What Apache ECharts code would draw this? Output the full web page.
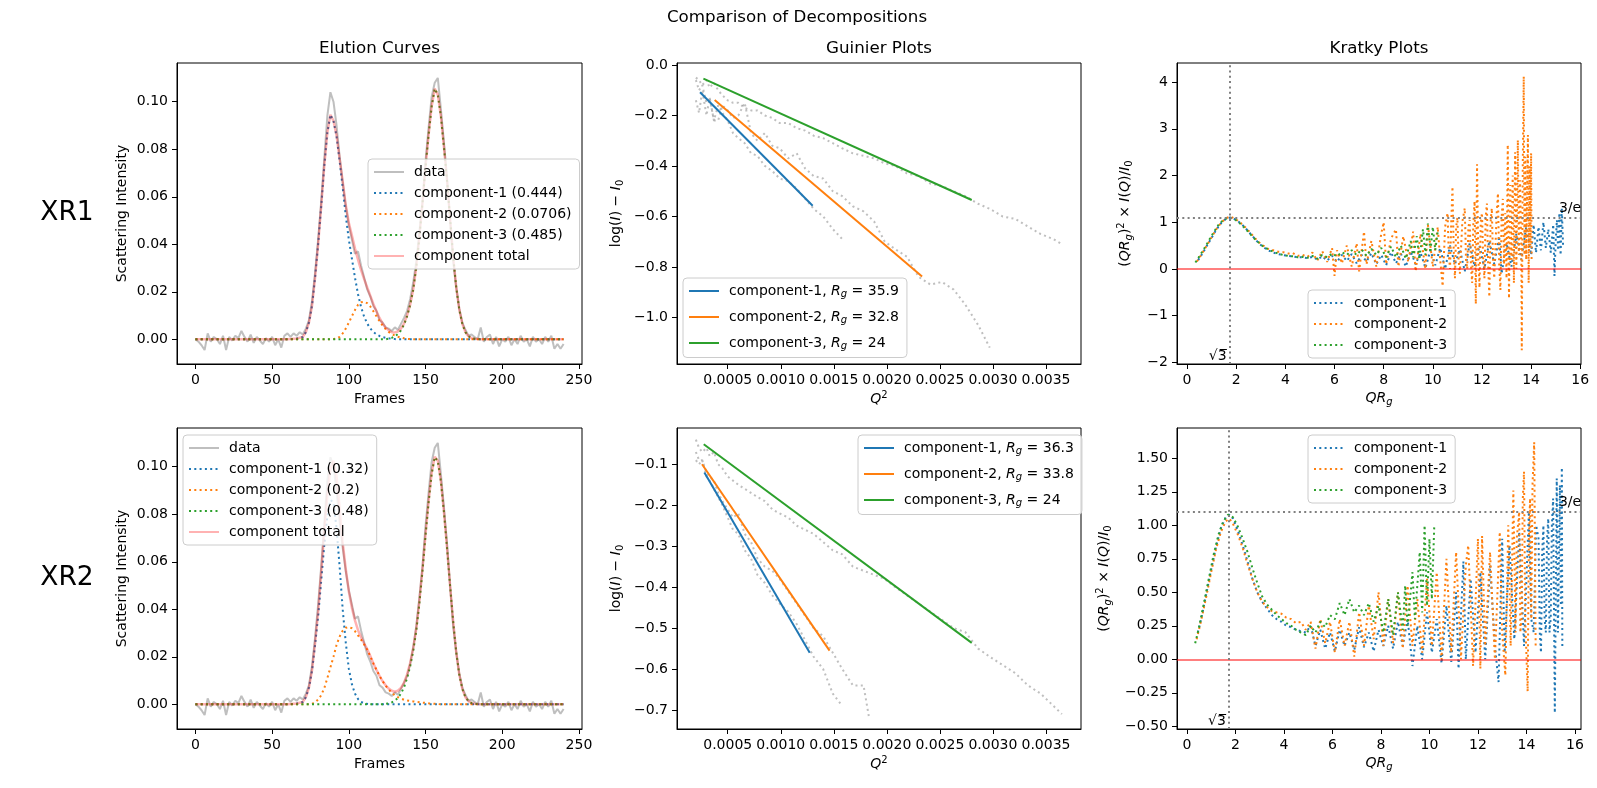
<!DOCTYPE html>
<html>
<head>
<meta charset="utf-8">
<title>Comparison of Decompositions</title>
<script src="https://cdn.jsdelivr.net/npm/echarts@6.0.0/dist/echarts.min.js"></script>
<style>
  html, body { margin: 0; padding: 0; background: #fff; }
  #chart { width: 1597px; height: 788px; }
</style>
</head>
<body>
<div id="chart"></div>
<script>
// ---------- elution curves (frames, intensities) ----------
const elutionFrames = [
  0, 2, 4, 6, 8, 10, 12, 14, 16, 18, 20, 22, 24, 26, 28, 30, 32, 34, 36, 38,
  40, 42, 44, 46, 48, 50, 52, 54, 56, 58, 60, 62, 64, 66, 68, 70, 72, 74, 76, 78,
  80, 82, 84, 86, 88, 90, 92, 94, 96, 98, 100, 102, 104, 106, 108, 110, 112, 114, 116, 118,
  120, 122, 124, 126, 128, 130, 132, 134, 136, 138, 140, 142, 144, 146, 148, 150, 152, 154, 156, 158,
  160, 162, 164, 166, 168, 170, 172, 174, 176, 178, 180, 182, 184, 186, 188, 190, 192, 194, 196, 198,
  200, 202, 204, 206, 208, 210, 212, 214, 216, 218, 220, 222, 224, 226, 228, 230, 232, 234, 236, 238,
  240
];
const elutionData = [
  0.0, -0.001, -0.0025, -0.0045, 0.0025, -0.001, 0.001, 0.0, -0.002, 0.0015,
  -0.0045, 0.001, -0.0005, 0.0015, 0.0005, 0.0035, 0.001, -0.001, 0.002, -0.0015,
  0.001, -0.0005, -0.002, 0.0005, -0.001, 0.001, -0.0025, 0.0, -0.0035, 0.0015,
  0.0025, 0.001, 0.0025, 0.0015, 0.003, 0.002, 0.0045, 0.008, 0.016, 0.028,
  0.042, 0.058, 0.076, 0.094, 0.104, 0.1, 0.09, 0.077, 0.066, 0.056,
  0.048, 0.042, 0.036, 0.037, 0.031, 0.026, 0.021, 0.018, 0.014, 0.012,
  0.008, 0.007, 0.005, 0.0045, 0.0035, 0.005, 0.004, 0.0065, 0.009, 0.012,
  0.017, 0.024, 0.033, 0.045, 0.058, 0.075, 0.089, 0.102, 0.108, 0.11,
  0.097, 0.083, 0.068, 0.05, 0.033, 0.022, 0.013, 0.007, 0.004, 0.0015,
  0.002, 0.001, 0.0, 0.005, -0.001, 0.001, 0.002, -0.002, 0.001, -0.003,
  0.0, -0.001, 0.001, -0.0025, 0.0, -0.002, 0.0015, -0.001, 0.0, -0.003,
  0.001, -0.001, 0.0, -0.002, 0.001, -0.001, 0.0015, -0.004, -0.002, -0.004,
  -0.002
];
const fitFrames = [
  0, 10, 20, 30, 40, 50, 60, 66,
  70, 72, 74, 76, 78, 80, 82, 84, 86, 88,
  90, 92, 94, 96, 98, 100, 102, 104, 106, 108,
  110, 112, 114, 116, 118, 120, 122, 124, 126, 128,
  130, 132, 134, 136, 138, 140, 142, 144, 146, 148,
  150, 152, 154, 156, 158, 160, 162, 164, 166, 168,
  170, 172, 174, 176, 178, 180, 182, 184, 186, 188,
  190, 200, 210, 220, 230, 240
];
const xr1Comp1 = [
  0, 0, 0, 0, 0, 0, 0, 0.0003,
  0.001, 0.003, 0.007, 0.014, 0.026, 0.040, 0.056, 0.073, 0.087, 0.0945,
  0.092, 0.0855, 0.075, 0.064, 0.052, 0.042, 0.034, 0.026, 0.019, 0.0135,
  0.0095, 0.0066, 0.0046, 0.0031, 0.0021, 0.0014, 0.0009, 0.0006, 0.0004, 0.0002,
  0.0001, 0, 0, 0, 0, 0, 0, 0, 0, 0,
  0, 0, 0, 0, 0, 0, 0, 0, 0, 0,
  0, 0, 0, 0, 0, 0, 0, 0, 0, 0,
  0, 0, 0, 0, 0, 0
];
const xr1Comp2 = [
  0, 0, 0, 0, 0, 0, 0, 0,
  0, 0, 0, 0, 0, 0, 0, 0, 0, 0,
  0.0001, 0.0003, 0.001, 0.0025, 0.0045, 0.007, 0.0097, 0.0123, 0.0145, 0.0156,
  0.0158, 0.0152, 0.0138, 0.0118, 0.0097, 0.0076, 0.0058, 0.0043, 0.0031, 0.0022,
  0.0016, 0.0011, 0.0007, 0.0004, 0.0002, 0.0001, 0, 0, 0, 0,
  0, 0, 0, 0, 0, 0, 0, 0, 0, 0,
  0, 0, 0, 0, 0, 0, 0, 0, 0, 0,
  0, 0, 0, 0, 0, 0
];
const xr1Comp3 = [
  0, 0, 0, 0, 0, 0, 0, 0,
  0, 0, 0, 0, 0, 0, 0, 0, 0, 0,
  0, 0, 0, 0, 0, 0, 0, 0, 0, 0,
  0, 0, 0, 0, 0, 0, 0, 0, 0.0003, 0.0006,
  0.0012, 0.0022, 0.0038, 0.0062, 0.0098, 0.0145, 0.021, 0.0305, 0.043, 0.057,
  0.0725, 0.086, 0.098, 0.1055, 0.103, 0.094, 0.081, 0.067, 0.051, 0.035,
  0.022, 0.0125, 0.0065, 0.003, 0.0013, 0.0005, 0.0002, 0.0001, 0, 0,
  0, 0, 0, 0, 0, 0
];
const xr1Total = [
  0, 0, 0, 0, 0, 0, 0, 0.0003,
  0.001, 0.003, 0.007, 0.014, 0.026, 0.040, 0.056, 0.073, 0.087, 0.0945,
  0.092, 0.0858, 0.076, 0.0665, 0.0565, 0.049, 0.0437, 0.0383, 0.0335, 0.0291,
  0.0253, 0.0218, 0.0184, 0.0149, 0.0118, 0.009, 0.0067, 0.0049, 0.0038, 0.003,
  0.0029, 0.0033, 0.0045, 0.0066, 0.01, 0.0146, 0.021, 0.0305, 0.043, 0.057,
  0.0725, 0.086, 0.098, 0.1055, 0.103, 0.094, 0.081, 0.067, 0.051, 0.035,
  0.022, 0.0125, 0.0065, 0.003, 0.0013, 0.0005, 0.0002, 0.0001, 0, 0,
  0, 0, 0, 0, 0, 0
];
const xr2Comp1 = [
  0, 0, 0, 0, 0, 0, 0, 0.0003,
  0.001, 0.003, 0.007, 0.014, 0.025, 0.037, 0.052, 0.067, 0.079, 0.086,
  0.085, 0.074, 0.058, 0.040, 0.026, 0.015, 0.0085, 0.0045, 0.0022, 0.001,
  0.0004, 0.0002, 0.0001, 0, 0, 0, 0, 0, 0, 0,
  0, 0, 0, 0, 0, 0, 0, 0, 0, 0,
  0, 0, 0, 0, 0, 0, 0, 0, 0, 0,
  0, 0, 0, 0, 0, 0, 0, 0, 0, 0,
  0, 0, 0, 0, 0, 0
];
const xr2Comp2 = [
  0, 0, 0, 0, 0, 0, 0, 0,
  0, 0, 0, 0.0002, 0.0008, 0.002, 0.0038, 0.0068, 0.011, 0.0155,
  0.020, 0.025, 0.0285, 0.031, 0.0322, 0.0325, 0.032, 0.0308, 0.029, 0.0272,
  0.0252, 0.023, 0.0202, 0.0172, 0.0145, 0.012, 0.0098, 0.0078, 0.0062, 0.0049,
  0.0038, 0.003, 0.0024, 0.0019, 0.0016, 0.0014, 0.0012, 0.001, 0.0009, 0.0007,
  0.0006, 0.0004, 0.0003, 0.0002, 0.0001, 0, 0, 0, 0, 0,
  0, 0, 0, 0, 0, 0, 0, 0, 0, 0,
  0, 0, 0, 0, 0, 0
];
const xr2Comp3 = [
  0, 0, 0, 0, 0, 0, 0, 0,
  0, 0, 0, 0, 0, 0, 0, 0, 0, 0,
  0, 0, 0, 0, 0, 0, 0, 0, 0, 0,
  0, 0, 0, 0, 0, 0, 0, 0.0002, 0.0004, 0.0008,
  0.0015, 0.0027, 0.0045, 0.0072, 0.011, 0.016, 0.0225, 0.031, 0.0425, 0.056,
  0.071, 0.085, 0.097, 0.104, 0.1025, 0.094, 0.081, 0.066, 0.050, 0.035,
  0.022, 0.0125, 0.0065, 0.003, 0.0013, 0.0005, 0.0002, 0.0001, 0, 0,
  0, 0, 0, 0, 0, 0
];
const xr2Total = [
  0, 0, 0, 0, 0, 0, 0, 0.0003,
  0.001, 0.003, 0.007, 0.0142, 0.0258, 0.039, 0.0555, 0.0728, 0.088, 0.099,
  0.1025, 0.096, 0.083, 0.068, 0.057, 0.0475, 0.0407, 0.0353, 0.0312, 0.0282,
  0.0256, 0.0232, 0.0203, 0.0172, 0.0145, 0.012, 0.0098, 0.008, 0.0066, 0.0057,
  0.0053, 0.0057, 0.0069, 0.0091, 0.0126, 0.0174, 0.0237, 0.032, 0.0434, 0.0567,
  0.0716, 0.0854, 0.0973, 0.1042, 0.1026, 0.094, 0.081, 0.066, 0.050, 0.035,
  0.022, 0.0125, 0.0065, 0.003, 0.0013, 0.0005, 0.0002, 0.0001, 0, 0,
  0, 0, 0, 0, 0, 0
];
const xr1Ratios = ['0.444', '0.0706', '0.485'];
const xr2Ratios = ['0.32', '0.2', '0.48'];

// ---------- guinier plots ([Q^2, log(I) - I0]) ----------
const xr1Rg = ['35.9', '32.8', '24'];
const xr2Rg = ['36.3', '33.8', '24'];
const g1Data1 = [[0.0002,-0.14],[0.00023,-0.19],[0.00026,-0.10],[0.0003,-0.20],[0.00033,-0.13],[0.00037,-0.22],[0.00041,-0.16],[0.00045,-0.19],[0.0005,-0.22],[0.00055,-0.27],[0.0006,-0.29],[0.00066,-0.31],[0.00072,-0.35],[0.00078,-0.36],[0.00085,-0.40],[0.00092,-0.42],[0.00099,-0.45],[0.00107,-0.46],[0.00115,-0.49],[0.00123,-0.53],[0.00131,-0.57],[0.0014,-0.60],[0.00149,-0.65],[0.00158,-0.69]];
const g1Data2 = [[0.0002,-0.06],[0.00023,-0.10],[0.00026,-0.08],[0.0003,-0.15],[0.00033,-0.13],[0.00037,-0.22],[0.00041,-0.22],[0.00045,-0.16],[0.0005,-0.18],[0.00055,-0.21],[0.0006,-0.20],[0.00066,-0.15],[0.00072,-0.27],[0.00078,-0.30],[0.00085,-0.27],[0.00092,-0.32],[0.00099,-0.33],[0.00107,-0.37],[0.00115,-0.35],[0.00123,-0.41],[0.00131,-0.44],[0.0014,-0.45],[0.00149,-0.50],[0.00158,-0.52],[0.00168,-0.56],[0.00178,-0.58],[0.00188,-0.62],[0.00198,-0.70],[0.00208,-0.73],[0.00219,-0.76],[0.0023,-0.84],[0.00241,-0.87],[0.00252,-0.86],[0.00263,-0.89],[0.00274,-0.95],[0.00286,-1.03],[0.00297,-1.12]];
const g1Data3 = [[0.0002,-0.05],[0.00023,-0.06],[0.00026,-0.08],[0.0003,-0.06],[0.00033,-0.09],[0.00037,-0.07],[0.00041,-0.10],[0.00045,-0.12],[0.0005,-0.14],[0.00055,-0.15],[0.0006,-0.15],[0.00066,-0.17],[0.00072,-0.18],[0.00078,-0.18],[0.00085,-0.20],[0.00092,-0.21],[0.00099,-0.23],[0.00107,-0.23],[0.00115,-0.25],[0.00123,-0.26],[0.00131,-0.28],[0.0014,-0.29],[0.00149,-0.31],[0.00158,-0.33],[0.00168,-0.35],[0.00178,-0.36],[0.00188,-0.37],[0.00198,-0.39],[0.00208,-0.40],[0.00219,-0.43],[0.0023,-0.44],[0.00241,-0.47],[0.00252,-0.48],[0.00263,-0.50],[0.00274,-0.52],[0.00286,-0.55],[0.00297,-0.57],[0.00309,-0.60],[0.00321,-0.61],[0.00333,-0.64],[0.00345,-0.67],[0.00357,-0.69],[0.00365,-0.71]];
const g1Fit1 = [[0.000239, -0.108], [0.001301, -0.558]];
const g1Fit2 = [[0.000377, -0.139], [0.002332, -0.838]];
const g1Fit3 = [[0.000271, -0.054], [0.0028, -0.535]];
const g2Data1 = [[0.0002,-0.09],[0.00023,-0.10],[0.00026,-0.09],[0.0003,-0.13],[0.00033,-0.14],[0.00037,-0.16],[0.00041,-0.18],[0.00045,-0.20],[0.0005,-0.23],[0.00055,-0.26],[0.0006,-0.27],[0.00066,-0.31],[0.00072,-0.33],[0.00078,-0.37],[0.00085,-0.39],[0.00092,-0.42],[0.00099,-0.44],[0.00107,-0.46],[0.00115,-0.49],[0.00123,-0.53],[0.00131,-0.57],[0.0014,-0.60],[0.00149,-0.66],[0.00158,-0.69]];
const g2Data2 = [[0.0002,-0.07],[0.00023,-0.09],[0.00026,-0.09],[0.0003,-0.12],[0.00033,-0.13],[0.00037,-0.14],[0.00041,-0.17],[0.00045,-0.19],[0.0005,-0.21],[0.00055,-0.23],[0.0006,-0.22],[0.00066,-0.27],[0.00072,-0.29],[0.00078,-0.33],[0.00085,-0.35],[0.00092,-0.36],[0.00099,-0.38],[0.00107,-0.41],[0.00115,-0.44],[0.00123,-0.47],[0.00131,-0.50],[0.0014,-0.52],[0.00149,-0.56],[0.00158,-0.60],[0.00168,-0.64],[0.00178,-0.64],[0.00183,-0.715]];
const g2Data3 = [[0.0002,-0.04],[0.00023,-0.06],[0.00026,-0.07],[0.0003,-0.06],[0.00033,-0.08],[0.00037,-0.07],[0.00041,-0.10],[0.00045,-0.11],[0.0005,-0.13],[0.00055,-0.14],[0.0006,-0.15],[0.00066,-0.16],[0.00072,-0.17],[0.00078,-0.18],[0.00085,-0.19],[0.00092,-0.21],[0.00099,-0.22],[0.00107,-0.23],[0.00115,-0.25],[0.00123,-0.26],[0.00131,-0.27],[0.0014,-0.29],[0.00149,-0.31],[0.00158,-0.32],[0.00168,-0.35],[0.00178,-0.36],[0.00188,-0.37],[0.00198,-0.38],[0.00208,-0.40],[0.00219,-0.42],[0.0023,-0.44],[0.00241,-0.46],[0.00252,-0.48],[0.00263,-0.50],[0.00274,-0.51],[0.00286,-0.55],[0.00297,-0.57],[0.00309,-0.59],[0.00321,-0.61],[0.00333,-0.64],[0.00345,-0.66],[0.00357,-0.69],[0.00365,-0.71]];
const g2Fit1 = [[0.00028, -0.12], [0.001273, -0.56]];
const g2Fit2 = [[0.000258, -0.1], [0.00146, -0.555]];
const g2Fit3 = [[0.000274, -0.051], [0.0028, -0.536]];

// ---------- kratky plots ([QRg, (QRg)^2 I/I0]) ----------
const k1Comp1 = [[0.45,0.19],[0.6,0.31],[0.8,0.49],[1.0,0.67],[1.2,0.85],[1.4,0.99],[1.6,1.08],[1.75,1.1],[1.9,1.08],[2.1,1.01],[2.3,0.92],[2.5,0.8],[2.7,0.68],[2.9,0.56],[3.1,0.47],[3.3,0.4],[3.5,0.35],[3.7,0.32],[3.9,0.3],[4.1,0.28],[4.3,0.27],[4.5,0.25],[4.7,0.25],[4.9,0.23],
  [5.1,0.26],[5.3,0.2],[5.5,0.27],[5.7,0.18],[5.9,0.28],[6.1,0.15],[6.3,0.3],[6.5,0.17],[6.7,0.32],[6.9,0.12],[7.1,0.3],[7.3,0.16],[7.5,0.34],[7.7,0.1],[7.9,0.3],[8.1,0.08],[8.3,0.36],[8.5,0.12],[8.7,0.33],[8.9,0.05],[9.1,0.38],[9.3,0.1],[9.5,0.35],[9.7,0.02],[9.9,0.4],[10.1,0.08],[10.3,0.45],[10.5,0.0],[10.7,0.5],[10.9,0.1],[11.1,0.42],[11.3,-0.05],[11.5,0.55],[11.7,0.05],[11.9,0.5],[12.1,0.0],[12.3,0.6],[12.5,0.1],[12.7,0.7],[12.8,-0.1],[13.0,0.55],[13.2,0.05],[13.4,0.75],[13.6,0.2],[13.8,0.9],[14.0,0.3],[14.1,0.95],[14.2,0.35],[14.3,0.9],[14.4,0.4],[14.5,1.0],[14.6,0.45],[14.7,0.85],[14.8,0.35],[14.9,0.95],[14.95,-0.15],[15.0,0.6],[15.05,1.05],[15.1,0.4],[15.15,1.2],[15.2,0.3],[15.25,1.3],[15.3,0.5]];
const k1Comp2 = [[0.4,0.16],[0.6,0.32],[0.8,0.5],[1.0,0.68],[1.2,0.86],[1.4,1.0],[1.6,1.09],[1.75,1.12],[1.9,1.09],[2.1,1.02],[2.3,0.93],[2.5,0.82],[2.7,0.7],[2.9,0.58],[3.1,0.5],[3.3,0.43],[3.5,0.4],[3.7,0.37],[3.9,0.36],[4.1,0.33],[4.3,0.34],[4.5,0.28],[4.7,0.3],[4.9,0.26],
  [5.1,0.35],[5.3,0.18],[5.5,0.38],[5.7,0.15],[5.9,0.45],[6.0,-0.15],[6.1,0.4],[6.3,0.12],[6.5,0.5],[6.7,0.05],[6.9,0.55],[7.0,-0.05],[7.2,0.8],[7.3,0.1],[7.5,0.6],[7.7,0.05],[7.9,0.75],[8.0,1.0],[8.1,0.1],[8.3,0.65],[8.5,0.85],[8.6,0.05],[8.8,0.7],[9.0,0.15],[9.2,0.8],[9.3,-0.05],[9.5,0.75],[9.7,0.0],[9.8,0.95],[10.0,0.05],[10.2,0.9],[10.3,0.2],[10.4,-0.37],[10.5,0.9],[10.6,1.2],[10.65,0.3],[10.7,0.0],[10.75,1.0],[10.8,1.76],[10.85,0.4],[10.9,-0.2],[10.95,0.9],[11.0,1.1],[11.05,0.2],[11.1,-0.1],[11.2,1.0],[11.3,1.3],[11.35,0.2],[11.4,0.0],[11.45,0.9],[11.5,1.05],[11.55,0.1],[11.6,-0.3],[11.65,1.0],[11.7,1.45],[11.75,-0.75],[11.8,2.24],[11.85,0.3],[11.9,-0.4],[11.95,1.0],[12.0,1.2],[12.05,0.2],[12.1,-0.2],[12.15,1.1],[12.2,1.4],[12.25,0.1],[12.3,-0.6],[12.35,1.0],[12.4,1.3],[12.45,0.2],[12.5,-0.2],[12.6,1.2],[12.65,1.62],[12.7,0.1],[12.75,-0.45],[12.8,1.1],
  [12.85,1.5],[12.9,0.1],[12.95,1.2],[13.0,-0.2],[13.05,2.66],[13.1,-0.63],[13.15,1.8],[13.2,0.2],[13.25,2.0],[13.3,-0.3],[13.35,2.5],[13.4,0.0],[13.46,2.76],[13.5,0.3],[13.55,1.9],[13.6,0.4],[13.62,-1.74],[13.66,2.2],[13.7,4.12],[13.73,0.3],[13.77,2.4],[13.8,0.2],[13.87,2.87],[13.9,-0.3],[13.94,2.2],[13.97,0.5],[14.0,2.48],[14.02,0.2]];
const k1Comp3 = [[0.34,0.14],[0.5,0.27],[0.7,0.44],[0.9,0.62],[1.1,0.8],[1.3,0.96],[1.5,1.06],[1.7,1.1],[1.9,1.08],[2.1,1.0],[2.3,0.9],[2.5,0.79],[2.7,0.67],[2.9,0.57],[3.1,0.48],[3.3,0.42],[3.5,0.37],[3.7,0.33],[3.9,0.3],[4.1,0.28],[4.3,0.27],[4.5,0.25],[4.7,0.26],[4.9,0.24],
  [5.1,0.28],[5.3,0.22],[5.5,0.3],[5.7,0.25],[5.9,0.33],[6.1,0.27],[6.3,0.36],[6.5,0.3],[6.7,0.4],[6.9,0.3],[7.1,0.42],[7.3,0.28],[7.5,0.43],[7.7,0.3],[7.9,0.45],[8.1,0.25],[8.3,0.48],[8.5,0.25],[8.7,0.5],[8.9,0.22],[9.1,0.6],[9.2,0.25],[9.35,0.7],[9.45,0.2],[9.6,0.85],[9.7,0.3],[9.8,0.97],[9.9,0.35],[10.0,0.9],[10.1,0.4],[10.2,0.8]];
const k2Comp1 = [[0.45,0.2],[0.6,0.31],[0.8,0.49],[1.0,0.67],[1.2,0.84],[1.4,0.98],[1.6,1.06],[1.75,1.08],[1.9,1.05],[2.1,0.96],[2.3,0.85],[2.5,0.73],[2.7,0.6],[2.9,0.5],[3.1,0.43],[3.3,0.38],[3.5,0.33],[3.7,0.3],[3.9,0.28],[4.1,0.25],[4.3,0.24],[4.5,0.22],[4.7,0.21],[4.9,0.2],
  [5.1,0.25],[5.3,0.1],[5.5,0.22],[5.7,0.08],[5.9,0.2],[6.1,0.06],[6.3,0.22],[6.5,0.1],[6.7,0.2],[6.9,0.07],[7.1,0.24],[7.3,0.09],[7.5,0.2],[7.7,0.06],[7.9,0.22],[8.1,0.1],[8.3,0.25],[8.5,0.08],[8.7,0.28],[8.9,0.1],[9.1,0.3],[9.3,-0.05],[9.5,0.25],[9.7,0.0],[9.9,0.35],[10.1,0.05],[10.3,0.3],[10.5,-0.03],[10.7,0.4],[10.9,-0.02],[11.1,0.5],[11.2,-0.07],[11.4,0.73],[11.5,0.0],[11.7,0.6],[11.9,0.05],[12.1,0.65],[12.3,0.0],[12.5,0.7],[12.7,0.1],[12.85,-0.17],[13.0,0.9],[13.1,0.05],[13.3,0.85],[13.5,0.15],[13.7,0.95],[13.9,0.1],[14.1,1.1],[14.2,0.3],[14.3,0.2],[14.4,1.0],[14.5,0.9],[14.55,0.2],[14.6,0.05],[14.65,0.8],[14.7,1.0],[14.75,0.3],[14.8,0.2],[14.85,0.9],[14.9,1.05],[14.95,0.2],[15.0,0.3],[15.05,1.0],[15.1,1.2],[15.17,-0.4],[15.25,1.35],[15.3,0.2],[15.38,1.3],[15.42,0.4],[15.46,1.43],[15.48,0.1]];
const k2Comp2 = [[0.4,0.15],[0.6,0.3],[0.8,0.47],[1.0,0.65],[1.2,0.82],[1.4,0.95],[1.6,1.03],[1.75,1.05],[1.9,1.01],[2.1,0.93],[2.3,0.83],[2.5,0.71],[2.7,0.6],[2.9,0.5],[3.1,0.43],[3.3,0.39],[3.5,0.36],[3.7,0.35],[3.9,0.34],[4.1,0.31],[4.3,0.3],[4.5,0.27],[4.7,0.28],[4.9,0.22],
  [5.1,0.28],[5.3,0.08],[5.5,0.3],[5.7,0.12],[5.9,0.28],[6.1,0.05],[6.3,0.3],[6.5,0.1],[6.7,0.28],[6.9,0.02],[7.1,0.35],[7.3,0.1],[7.5,0.4],[7.7,0.15],[7.9,0.5],[8.1,0.1],[8.3,0.45],[8.5,0.12],[8.7,0.5],[8.9,0.08],[9.1,0.55],[9.3,0.1],[9.5,0.45],[9.7,0.05],[9.9,0.6],[10.1,0.1],[10.3,0.65],[10.5,0.0],[10.7,0.75],[10.9,0.05],[11.1,0.8],[11.3,0.0],[11.5,0.7],[11.6,0.85],[11.8,-0.05],[12.0,0.9],[12.1,-0.07],[12.17,0.92],[12.3,0.1],[12.5,0.8],[12.7,0.0],[12.9,0.95],[13.0,0.2],[13.13,-0.12],[13.25,1.0],[13.35,0.1],[13.46,1.26],[13.55,0.2],[13.6,0.9],[13.7,1.1],[13.75,0.2],[13.8,0.3],[13.85,1.2],[13.9,1.4],[13.95,0.3],[14.05,-0.24],[14.1,0.9],[14.15,1.2],[14.2,0.3],[14.25,1.3],[14.32,1.62],[14.38,0.1]];
const k2Comp3 = [[0.34,0.12],[0.5,0.24],[0.7,0.42],[0.9,0.6],[1.1,0.78],[1.3,0.93],[1.5,1.03],[1.7,1.08],[1.9,1.06],[2.1,0.99],[2.3,0.9],[2.5,0.8],[2.7,0.68],[2.9,0.57],[3.1,0.47],[3.3,0.41],[3.5,0.37],[3.7,0.33],[3.9,0.3],[4.1,0.27],[4.3,0.25],[4.5,0.22],[4.7,0.2],[4.9,0.18],
  [5.1,0.25],[5.3,0.2],[5.5,0.28],[5.7,0.24],[5.9,0.33],[6.1,0.3],[6.3,0.42],[6.5,0.33],[6.7,0.45],[6.9,0.35],[7.1,0.4],[7.3,0.33],[7.5,0.42],[7.7,0.28],[7.9,0.4],[8.1,0.2],[8.3,0.45],[8.5,0.18],[8.7,0.5],[8.9,0.22],[9.0,0.55],[9.1,0.25],[9.3,0.65],[9.4,0.3],[9.6,0.8],[9.7,0.35],[9.8,1.0],[9.9,0.4],[10.0,0.9],[10.1,0.45],[10.2,1.0]];

// ---------- axis ranges and ticks ----------
const elutionX = [-12, 252];
const elutionY = [-0.0104, 0.1163];
const guinierX = [0.000022, 0.00383];
const guinier1Y = [-1.185, 0.008];
const guinier2Y = [-0.7464, -0.0114];
const kratky1X = [-0.41, 16.03];
const kratky1Y = [-2.035, 4.41];
const kratky2X = [-0.41, 16.25];
const kratky2Y = [-0.52, 1.726];
const elutionXTicks = [0, 50, 100, 150, 200, 250];
const elutionYTicks = [0, 0.02, 0.04, 0.06, 0.08, 0.1];
const guinierXTicks = [0.0005, 0.001, 0.0015, 0.002, 0.0025, 0.003, 0.0035];
const guinier1YTicks = [-1, -0.8, -0.6, -0.4, -0.2, 0];
const guinier2YTicks = [-0.7, -0.6, -0.5, -0.4, -0.3, -0.2, -0.1];
const kratkyXTicks = [0, 2, 4, 6, 8, 10, 12, 14, 16];
const kratky1YTicks = [-2, -1, 0, 1, 2, 3, 4];
const kratky2YTicks = [-0.5, -0.25, 0, 0.25, 0.5, 0.75, 1, 1.25, 1.5];

// ---------- styling ----------
const F = 'DejaVu Sans';
const COLORS = ['#1f77b4', '#ff7f0e', '#2ca02c'];
const DOT = [2, 3.3];
const RICH = {
  i: { fontFamily: F, fontSize: 14, fontStyle: 'italic', color: '#000' },
  s: { fontFamily: F, fontSize: 10, color: '#000', padding: [7, 0, 0, 0] },
  si: { fontFamily: F, fontSize: 10, fontStyle: 'italic', color: '#000', padding: [7, 0, 0, 0] },
  sup: { fontFamily: F, fontSize: 10, color: '#000', padding: [0, 0, 9, 0] },
  gap: { fontFamily: F, fontSize: 14, width: 5 }
};

const pairs = (xs, ys) => xs.map((x, i) => [x, ys[i]]);
const fmt = d => v => (v < 0 ? '\u2212' : '') + Math.abs(v).toFixed(d);

function axis(gi, range, ticks, dec, name, gap) {
  return {
    type: 'value', gridIndex: gi, min: range[0], max: range[1],
    axisLine: { show: true, onZero: false, lineStyle: { color: '#000', width: 1 } },
    axisTick: { show: true, customValues: ticks, length: 5, lineStyle: { color: '#000', width: 1 } },
    axisLabel: { customValues: ticks, formatter: fmt(dec), color: '#000', fontFamily: F, fontSize: 14, margin: 9 },
    splitLine: { show: false },
    name: name, nameLocation: 'middle', nameGap: gap,
    nameTextStyle: { fontFamily: F, fontSize: 14, color: '#000', rich: RICH }
  };
}

function line(name, gi, data, color, width, type) {
  return {
    name: name, type: 'line', xAxisIndex: gi, yAxisIndex: gi, data: data,
    symbol: 'none', showSymbol: false, silent: true, color: color,
    itemStyle: { color: color },
    lineStyle: { color: color, width: width, type: type, cap: 'butt' },
    emphasis: { disabled: true }, animation: false
  };
}

function legend(names, left, top, gap) {
  return {
    data: names, left: left, top: top, orient: 'vertical',
    itemWidth: 30, itemHeight: 14, itemGap: gap, selectedMode: false,
    itemStyle: { opacity: 0 },
    padding: [6, 8, 6, 5], backgroundColor: 'rgba(255,255,255,0.8)',
    borderColor: '#cccccc', borderWidth: 1, borderRadius: 4,
    textStyle: { fontFamily: F, fontSize: 14, color: '#000', rich: RICH },
    formatter: n => '{gap| }' + n.replace('R_g', '{i|R}{si|g}')
  };
}

function elutionSeries(gi, comps, total, ratios) {
  const out = [line('data', gi, pairs(elutionFrames, elutionData), 'rgba(128,128,128,0.5)', 2, 'solid')];
  comps.forEach((c, k) => out.push(line('component-' + (k + 1) + ' (' + ratios[k] + ')', gi, pairs(fitFrames, c), COLORS[k], 2, DOT)));
  out.push(line('component total', gi, pairs(fitFrames, total), 'rgba(255,0,0,0.3)', 2.5, 'solid'));
  return out;
}

function guinierSeries(gi, grays, fits, rgs) {
  const out = grays.map((g, k) => line('gray-' + gi + '-' + k, gi, g, 'rgba(128,128,128,0.5)', 2, DOT));
  fits.forEach((f, k) => out.push(line('component-' + (k + 1) + ', R_g = ' + rgs[k], gi, f, COLORS[k], 2, 'solid')));
  return out;
}

function kratkySeries(gi, comps) {
  const out = comps.map((c, k) => line('component-' + (k + 1), gi, c, COLORS[k], 2, DOT));
  out.push({
    type: 'line', xAxisIndex: gi, yAxisIndex: gi, data: [], silent: true, animation: false,
    markLine: {
      symbol: ['none', 'none'], silent: true, animation: false, label: { show: false },
      emphasis: { disabled: true },
      data: [
        { yAxis: 0, lineStyle: { color: 'rgba(255,0,0,0.5)', width: 2, type: 'solid' } },
        { xAxis: Math.sqrt(3), lineStyle: { color: '#808080', width: 2, type: DOT } },
        { yAxis: 3 / Math.E, lineStyle: { color: '#808080', width: 2, type: DOT } }
      ]
    }
  });
  return out;
}

const grids = [
  [177, 63, 405], [677, 63, 404], [1177, 63, 404],
  [177, 428, 405], [677, 428, 404], [1177, 428, 404]
].map(g => ({ left: g[0], top: g[1], width: g[2], height: 301, show: true, borderColor: '#000', borderWidth: 1 }));

const elNames = r => ['data', 'component-1 (' + r[0] + ')', 'component-2 (' + r[1] + ')', 'component-3 (' + r[2] + ')', 'component total'];
const guNames = r => r.map((v, k) => 'component-' + (k + 1) + ', R_g = ' + v);
const krNames = ['component-1', 'component-2', 'component-3'];

const option = {
  animation: false,
  textStyle: { fontFamily: F },
  grid: grids,
  xAxis: [
    axis(0, elutionX, elutionXTicks, 0, 'Frames', 28),
    axis(1, guinierX, guinierXTicks, 4, '{i|Q}{sup|2}', 26),
    axis(2, kratky1X, kratkyXTicks, 0, '{i|QR}{si|g}', 26),
    axis(3, elutionX, elutionXTicks, 0, 'Frames', 28),
    axis(4, guinierX, guinierXTicks, 4, '{i|Q}{sup|2}', 26),
    axis(5, kratky2X, kratkyXTicks, 0, '{i|QR}{si|g}', 26)
  ],
  yAxis: [
    axis(0, elutionY, elutionYTicks, 2, 'Scattering Intensity', 48),
    axis(1, guinier1Y, guinier1YTicks, 1, 'log({i|I}) \u2212 {i|I}{s|0}', 52),
    axis(2, kratky1Y, kratky1YTicks, 0, '({i|QR}{si|g}){sup|2} \u00d7 {i|I}({i|Q})/{i|I}{s|0}', 42),
    axis(3, elutionY, elutionYTicks, 2, 'Scattering Intensity', 48),
    axis(4, guinier2Y, guinier2YTicks, 1, 'log({i|I}) \u2212 {i|I}{s|0}', 52),
    axis(5, kratky2Y, kratky2YTicks, 2, '({i|QR}{si|g}){sup|2} \u00d7 {i|I}({i|Q})/{i|I}{s|0}', 63)
  ],
  legend: [
    legend(elNames(xr1Ratios), 368, 159, 7),
    legend(guNames(xr1Rg), 683, 278, 10.5),
    legend(krNames, 1308, 290, 7),
    legend(elNames(xr2Ratios), 183, 435, 7),
    legend(guNames(xr2Rg), 858, 435, 10.5),
    legend(krNames, 1308, 435, 7)
  ],
  series: [].concat(
    elutionSeries(0, [xr1Comp1, xr1Comp2, xr1Comp3], xr1Total, xr1Ratios),
    guinierSeries(1, [g1Data1, g1Data2, g1Data3], [g1Fit1, g1Fit2, g1Fit3], xr1Rg),
    kratkySeries(2, [k1Comp1, k1Comp2, k1Comp3]),
    elutionSeries(3, [xr2Comp1, xr2Comp2, xr2Comp3], xr2Total, xr2Ratios),
    guinierSeries(4, [g2Data1, g2Data2, g2Data3], [g2Fit1, g2Fit2, g2Fit3], xr2Rg),
    kratkySeries(5, [k2Comp1, k2Comp2, k2Comp3])
  )
};

const chart = echarts.init(document.getElementById('chart'), null, { renderer: 'canvas', width: 1597, height: 788 });
chart.setOption(option);

// titles, row labels and the Kratky annotations
function txt(x, y, text, size, align, valign) {
  return { type: 'text', x: x, y: y, silent: true, z: 100,
    style: { text: text, fontFamily: F, fontSize: size, fill: '#000', align: align || 'center', verticalAlign: valign || 'middle' } };
}
const texts = [
  txt(797, 18, 'Comparison of Decompositions', 16.7),
  txt(379.5, 49, 'Elution Curves', 16.7),
  txt(879, 49, 'Guinier Plots', 16.7),
  txt(1379, 49, 'Kratky Plots', 16.7),
  txt(67, 213.5, 'XR1', 26.5),
  txt(67, 578.5, 'XR2', 26.5)
];
[[2, kratky1Y, 15.13], [5, kratky2Y, 15.34]].forEach(([gi, yr, ex]) => {
  const a = chart.convertToPixel({ gridIndex: gi }, [Math.sqrt(3), yr[0]]);
  texts.push(txt(a[0] - 3, a[1] - 1, '\u221a3\u0305', 14, 'right', 'bottom'));
  const b = chart.convertToPixel({ gridIndex: gi }, [ex, 3 / Math.E]);
  texts.push(txt(b[0], b[1] - 2, '3/e', 14, 'left', 'bottom'));
});
chart.setOption({ graphic: texts });
</script>
</body>
</html>
